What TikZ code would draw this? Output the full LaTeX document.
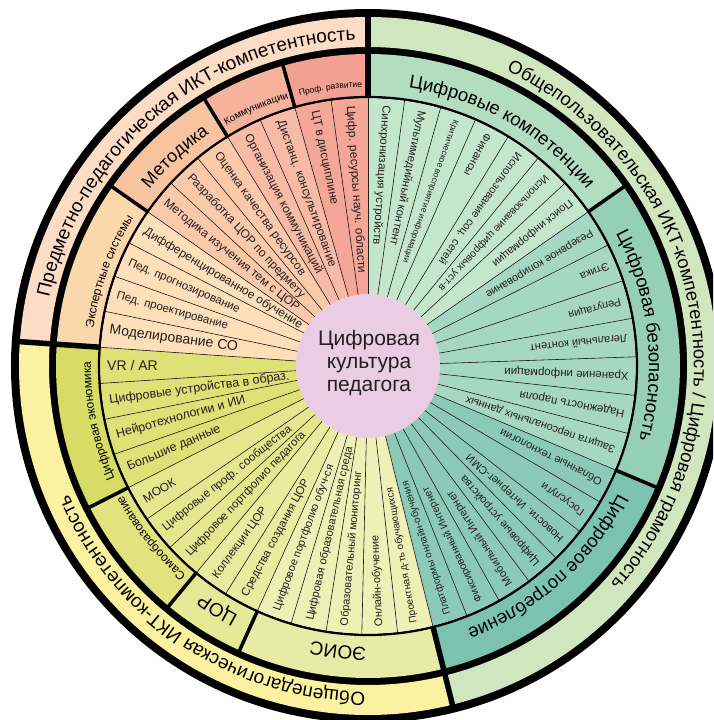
\documentclass[tikz,border=0pt]{standalone}
\usepackage{fontspec}
\setmainfont{Liberation Sans}
\usetikzlibrary{decorations.text}
\definecolor{ink}{HTML}{231F20}
\definecolor{outpeach}{HTML}{FCDCC5}
\definecolor{outgreen}{HTML}{CFE6BE}
\definecolor{outyel}{HTML}{FAF2A1}
\definecolor{profc}{HTML}{F3A192}
\definecolor{profi}{HTML}{F4A797}
\definecolor{commc}{HTML}{F6B29C}
\definecolor{commi}{HTML}{F7BAA4}
\definecolor{metc}{HTML}{F8C39F}
\definecolor{meti}{HTML}{FAC9A9}
\definecolor{expc}{HTML}{FBD8AC}
\definecolor{expi}{HTML}{FDDFB9}
\definecolor{econc}{HTML}{D8DC66}
\definecolor{econi}{HTML}{DEE176}
\definecolor{selfc}{HTML}{E1E37F}
\definecolor{selfi}{HTML}{E5E78E}
\definecolor{corc}{HTML}{E5E894}
\definecolor{cori}{HTML}{E9EB9F}
\definecolor{eoisc}{HTML}{E8EBA6}
\definecolor{eoisi}{HTML}{EEF0B6}
\definecolor{compc}{HTML}{B3DDBF}
\definecolor{compi}{HTML}{C4E6CA}
\definecolor{secc}{HTML}{96CFB8}
\definecolor{seci}{HTML}{A6D7C3}
\definecolor{consc}{HTML}{7CC3AF}
\definecolor{consi}{HTML}{8BCAB7}
\definecolor{corec}{HTML}{EBCDE3}
\tikzset{
  spoke/.style={draw=ink, line width=0.6pt},
  subline/.style={draw=black, line width=3.5pt},
  mainline/.style={draw=black, line width=5.5pt},
  itemlab/.style={anchor=west, inner sep=0pt, text=ink},
  arclab/.style={decorate, decoration={text along path, text align=center, text={#1}}},
}

\begin{document}
\begin{tikzpicture}[x=1pt, y=1pt]
  \useasboundingbox (-368,-354) rectangle (345,366);
  \clip (-368,-354) rectangle (345,366);
  % ---------------- rings ----------------
  \fill[black] (0,0) circle[radius=357];
  \foreach \ga/\gb/\gc in {90/-76/outgreen, -76/-184/outyel, -184/-270/outpeach}
    \fill[\gc] (\ga:349) arc[start angle=\ga, end angle=\gb, radius=349]
      -- (\gb:319) arc[start angle=\gb, end angle=\ga, radius=319] -- cycle;
  \foreach \ga/\gb/\gc in {90/35/compc, 35/-22.8/secc, -22.8/-76/consc, -76/-114.3/eoisc,
      -114.3/-129.7/corc, -129.7/-153.1/selfc, -153.1/-184/econc, -184/-215/expc,
      -215/-238.5/metc, -238.5/-254.2/commc, -254.2/-270/profc}
    \fill[\gc] (\ga:312) arc[start angle=\ga, end angle=\gb, radius=312]
      -- (\gb:269) arc[start angle=\gb, end angle=\ga, radius=269] -- cycle;

  % ---------------- items ----------------
  \def\fanlist{
    90/35/7/compi/cmp/{11.5/Синхронизация устройств, 11.5/Мультимедийный контент, 8.5/Критическое восприятие информации, 11/Финансы, 11/Использование соц. сетей, 10.5/Использование цифровых уст-в, 11/Поиск информации},
    35/-22.8/7/seci/sec/{11/Резервное копирование, 11/Этика, 11/Репутация, 11/Легальный контент, 11.5/Хранение информации, 11.5/Надежность пароля, 11/Защита персональных данных},
    -22.8/-76/7/consi/con/{11/Облачные технологии, 11/Госуслуги, 11/Новости. Интернет-СМИ, 11/Цифровые устройства, 11/Мобильный Интернет, 10.5/Фиксированный Интернет, 10/Платформы онлайн-обучения},
    -76/-114.3/5/eoisi/eoi/{10/Проектная д-ть обучающихся, 11/Онлайн-обучение, 11/Образовательный мониторинг, 11/Цифровая образовательная среда, 11/Цифровое портфолио обуч-ся},
    -114.3/-129.7/2/cori/cor/{11.5/Средства создания ЦОР, 11.5/Коллекции ЦОР},
    -129.7/-153.1/3/selfi/slf/{11.5/Цифровое портфолио педагога, 11.5/Цифровые проф. сообщества, 12/МООК},
    -153.1/-184/4/econi/eco/{12.5/Большие данные, 12.5/Нейротехнологии и ИИ, 12.5/Цифровые устройства в образ., 14/{VR / AR}},
    -184/-215/4/expi/exp/{14/Моделирование СО, 11.5/Пед. проектирование, 11.5/Пед. прогнозирование, 12/Дифференцированное обучение},
    -215/-238.5/3/meti/met/{12/Методика изучения тем с ЦОР, 12/Разработка ЦОР по предмету, 12/Оценка качества ресурсов},
    -238.5/-254.2/2/commi/com/{12/Организация коммуникаций, 12/Дистанц. консультирование},
    -254.2/-270/2/profi/prf/{12/ЦТ в дисциплине, 12/Цифр. ресурсы науч. области}}
  \foreach \ga/\gb/\gn/\gc/\gk/\gl in \fanlist
    \foreach \fs/\txt [count=\i] in \gl {
      \pgfmathsetmacro\aa{\ga+(\i-1)*((\gb)-(\ga))/\gn}
      \pgfmathsetmacro\ab{\ga+\i*((\gb)-(\ga))/\gn}
      \fill[\gc] (0,0) -- (\aa:268) arc[start angle=\aa, end angle=\ab, radius=268] -- cycle;
      \draw[spoke] (0,0) -- (\aa:268);
    }
  \draw[spoke] (0,0) -- (90:268);
  \foreach \ga/\gb/\gn/\gc/\gk/\gl in \fanlist
    \foreach \fs/\txt [count=\i] in \gl {
      \pgfmathsetmacro\am{\ga+(\i-0.5)*((\gb)-(\ga))/\gn}
      \node[itemlab, font=\fontsize{\fs}{\fs}\selectfont, rotate=\am+180] (\gk\i) at (\am:261) {\txt};
    }

  % ---------------- borders ----------------
  \draw[line width=2.2pt] (0,0) circle[radius=269];
  \foreach \a in {35, -22.8, -114.3, -129.7, -153.1, -215, -238.5, -254.2}
    \draw[subline] (\a:268) -- (\a:314);
  \foreach \a in {90, -76, -184}
    \draw[mainline] (\a:268) -- (\a:352);

  % ---------------- centre ----------------
  \fill[corec] (0,0) circle[radius=72];
  \node[align=center, text=ink, font=\fontsize{21}{23}\selectfont] (core) at (1,3)
    {Цифровая\\культура\\педагога};

  % ---------------- ring labels ----------------
  \path[arclab={|\fontsize{19}{19}\selectfont|Предметно-педагогическая ИКТ-компетентность}]
    (190:326) arc[start angle=190, end angle=70, radius=326];
  \path[arclab={|\fontsize{18.5}{18.5}\selectfont|Общепользовательская ИКТ-компетентность / Цифровая грамотность}]
    (91.5:326) arc[start angle=91.5, end angle=-68.5, radius=326];
  \path[arclab={|\fontsize{19}{19}\selectfont|Общепедагогическая ИКТ-компетентность}]
    (-68.6:326) arc[start angle=-68.6, end angle=-178.6, radius=326];

  \path[arclab={|\fontsize{18.5}{18.5}\selectfont|Цифровые компетенции}]
    (100.3:281) arc[start angle=100.3, end angle=20.3, radius=281];
  \path[arclab={|\fontsize{18.5}{18.5}\selectfont|Цифровая безопасность}]
    (46.5:281) arc[start angle=46.5, end angle=-33.5, radius=281];
  \path[arclab={|\fontsize{18.5}{18.5}\selectfont|Цифровое потребление}]
    (-8.2:281) arc[start angle=-8.2, end angle=-88.2, radius=281];
  \path[arclab={|\fontsize{19}{19}\selectfont|ЭОИС}]
    (-76:281) arc[start angle=-76, end angle=-116, radius=281];
  \path[arclab={|\fontsize{19}{19}\selectfont|ЦОР}]
    (-109.7:281) arc[start angle=-109.7, end angle=-133.7, radius=281];
  \path[arclab={|\fontsize{12}{12}\selectfont|Самообразование}]
    (-121.6:277) arc[start angle=-121.6, end angle=-161.6, radius=277];
  \path[arclab={|\fontsize{12}{12}\selectfont|Цифровая экономика}]
    (-143.5:277) arc[start angle=-143.5, end angle=-193.5, radius=277];
  \path[arclab={|\fontsize{12}{12}\selectfont|Экспертные системы}]
    (185:277) arc[start angle=185, end angle=135, radius=277];
  \path[arclab={|\fontsize{18}{18}\selectfont|Методика}]
    (152.7:281) arc[start angle=152.7, end angle=112.7, radius=281];
  \path[arclab={|\fontsize{10}{10}\selectfont|Коммуникации}]
    (125.5:279) arc[start angle=125.5, end angle=101.5, radius=279];
  \path[arclab={|\fontsize{8.5}{8.5}\selectfont|Проф. развитие}]
    (109.7:279) arc[start angle=109.7, end angle=85.7, radius=279];
\end{tikzpicture}
\end{document}
